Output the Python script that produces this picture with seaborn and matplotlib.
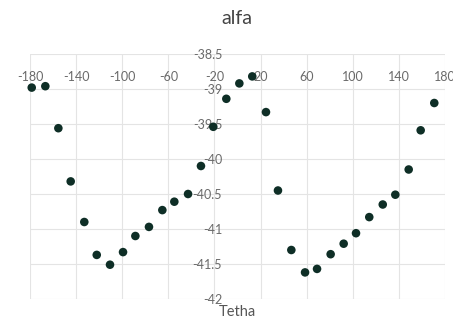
import matplotlib
matplotlib.use("Agg")
import matplotlib.pyplot as plt
import seaborn as sns
import pandas as pd

tetha = [-178.5, -166.7, -155.4, -144.7, -132.9, -122.1, -110.6, -99.3,
         -88.6, -76.8, -65.2, -54.8, -42.9, -31.7, -21.0, -9.7,
         1.6, 12.8, 24.7, 35.1, 46.7, 58.6, 69.0, 80.8,
         92.1, 102.8, 114.3, 126.0, 136.9, 148.5, 158.9, 170.7]
alfa = [-38.98, -38.96, -39.56, -40.32, -40.90, -41.37, -41.51, -41.33,
        -41.10, -40.97, -40.73, -40.61, -40.50, -40.10, -39.54, -39.14,
        -38.92, -38.82, -39.33, -40.45, -41.30, -41.62, -41.57, -41.36,
        -41.21, -41.06, -40.83, -40.65, -40.51, -40.15, -39.59, -39.20]
x_ticks = [-180, -140, -100, -60, -20, 20, 60, 100, 140, 180]
y_ticks = [-38.5, -39, -39.5, -40, -40.5, -41, -41.5, -42]
y_labels = ["-38.5", "-39", "-39.5", "-40", "-40.5", "-41", "-41.5", "-42"]

df = pd.DataFrame({"Tetha": tetha, "alfa": alfa})

sns.set_theme(style="white")
plt.rcParams['font.family'] = ['Lato', 'DejaVu Sans']

fig = plt.figure(figsize=(4.53, 3.2), dpi=100)
ax = fig.add_axes([30/453, 1-299/320, 415/453, 245/320])

sns.scatterplot(data=df, x="Tetha", y="alfa", ax=ax, color="#0e2e26",
                s=38, edgecolor="none", zorder=3, clip_on=False)

ax.set_xlim(-180, 180)
ax.set_ylim(-42, -38.5)
ax.set_xticks(x_ticks)
ax.set_xticklabels([str(v) for v in x_ticks])
ax.set_yticks(y_ticks)
ax.set_yticklabels(y_labels)

ax.grid(True, color="#e4e4e4", linewidth=0.8)
for s in ax.spines.values():
    s.set_visible(False)
ax.spines['left'].set_position(('data', 0))

ax.xaxis.tick_top()
ax.tick_params(axis='x', length=0, pad=-21, labelsize=9, colors="#6a6a6a")
ax.tick_params(axis='y', length=0, pad=11, labelsize=9, colors="#6a6a6a")

ax.set_xlabel("")
ax.set_ylabel("")
fig.text(237/453, 1-312/320, "Tetha", ha="center", va="center",
         fontsize=10.5, color="#555555")
fig.text(237/453, 1-18/320, "alfa", ha="center", va="center",
         fontsize=14, color="#444444")

fig.savefig("out.png", dpi=100)
